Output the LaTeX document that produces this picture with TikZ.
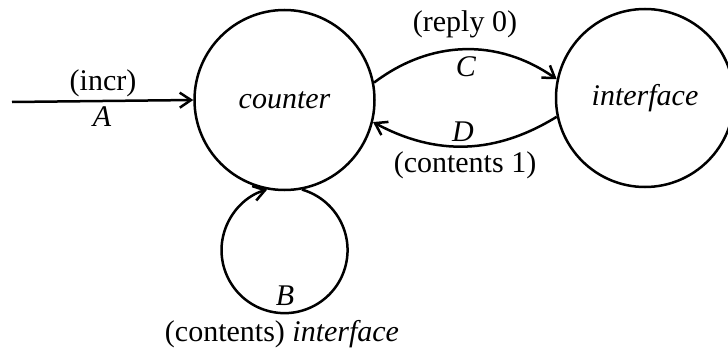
\documentclass[tikz,border=0pt]{standalone}
\usepackage{fontspec}
\setmainfont{Liberation Serif}
\usetikzlibrary{arrows.meta}
\begin{document}
\begin{tikzpicture}[x=0.4pt,y=0.4pt,
  every node/.style={font=\fontsize{12}{14}\selectfont},
  state/.style={draw,circle,line width=1pt,inner sep=0pt,font=\fontsize{12}{14}\selectfont\itshape},
  conn/.style={line width=1pt,-{Straight Barb[length=4.5pt,width=6pt,line width=1pt]}},
  lbl/.style={inner sep=1pt}]
\useasboundingbox (0,0) rectangle (728,-353);
\node[state,minimum size=72pt] (counter) at (284.5,-100) {counter};
\node[state,minimum size=71.2pt] (interface) at (645,-98) {interface};
\coordinate (start) at (12,-102);
% A
\draw[conn] (start) -- (counter.west);
\node[lbl] (incr) at (103,-83) {(incr)};
\node[lbl] (A) at (102,-117) {\itshape A};
% C
\draw[conn] (counter.11) to[bend left=36] (interface.168);
\node[lbl] (reply) at (465,-24) {(reply 0)};
\node[lbl] (C) at (466,-67) {\itshape C};
% D
\draw[conn] (interface.192) to[bend left=30] (counter.-14);
\node[lbl] (D) at (463,-132) {\itshape D};
\node[lbl] (cont1) at (465,-165) {(contents 1)};
% B self loop
\draw[conn] (counter.281) arc[start angle=74,end angle=-254,radius=25.2pt];
\node[lbl] (B) at (285,-296) {\itshape B};
\node[lbl] (cont) at (282,-334) {(contents) \textit{interface}};
\end{tikzpicture}
\end{document}
